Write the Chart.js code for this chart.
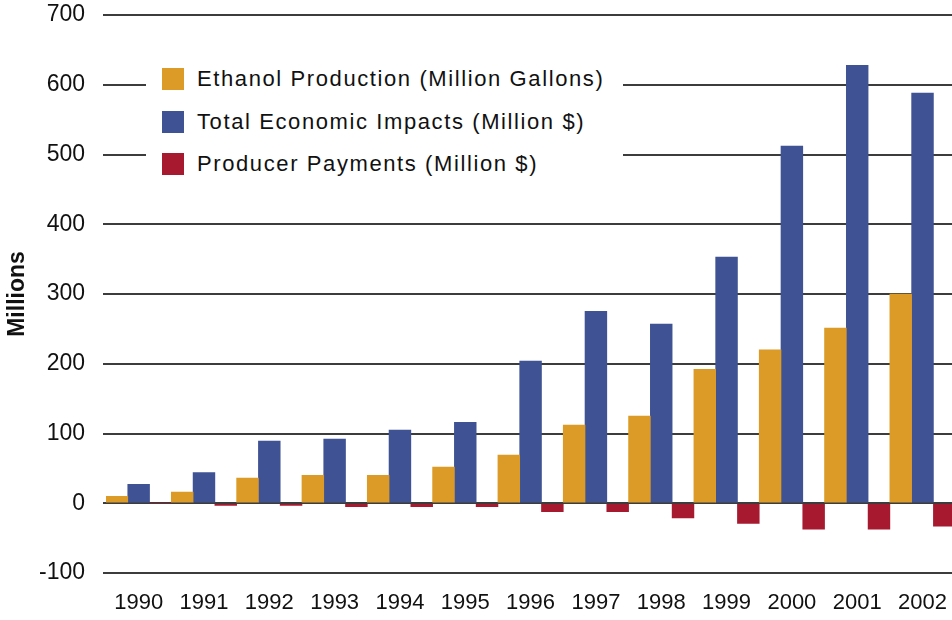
<!DOCTYPE html>
<html>
<head>
<meta charset="utf-8">
<script src="https://cdn.jsdelivr.net/npm/chart.js@4/dist/chart.umd.min.js"></script>
<style>
  html, body { margin: 0; padding: 0; background: #fff; overflow: hidden; }
  #wrap { position: relative; width: 952px; height: 620px; overflow: hidden; }
  #ethanol { position: absolute; left: 0; top: 0; }
  #legend { position: absolute; left: 146px; top: 48px; width: 461px; padding: 20px 0 0 16px; background: #fff; font-family: "Liberation Sans", Arial, sans-serif; font-size: 22px; letter-spacing: 1.6px; color: #111; }
  #legend .row { display: flex; align-items: center; height: 22px; margin-bottom: 20.5px; white-space: nowrap; }
  #legend .box { width: 22px; height: 22px; margin-right: 13px; }
</style>
</head>
<body>
<div id="wrap">
  <canvas id="ethanol" width="964" height="620"></canvas>
  <div id="legend"></div>
</div>
<script>
  // years on the x axis
  var years = ['1990', '1991', '1992', '1993', '1994', '1995', '1996', '1997', '1998', '1999', '2000', '2001', '2002'];

  // series values
  var ethanolProduction = [10, 16, 36, 40, 40, 52, 69, 112, 125, 192, 220, 251, 300];
  var economicImpacts = [27, 44, 89, 92, 105, 116, 204, 275, 257, 353, 512, 628, 588];
  var producerPayments = [0, -3, -3, -5, -5, -5, -12, -12, -21, -29, -37, -37, -33];

  var seriesNames = ['Ethanol Production (Million Gallons)', 'Total Economic Impacts (Million $)', 'Producer Payments (Million $)'];
  var seriesColors = ['#DC9A26', '#3E5294', '#A6192E'];

  // y axis ticks
  var yMin = -100, yMax = 700, yStep = 100;

  var ink = '#111';
  var gridColor = '#3c3c3c';
  var font = 'Liberation Sans, Arial, sans-serif';

  var seriesData = [ethanolProduction, economicImpacts, producerPayments];
  var datasets = seriesData.map(function (d, i) {
    return {
      label: seriesNames[i],
      data: d,
      backgroundColor: seriesColors[i],
      borderWidth: 0,
      categoryPercentage: 1,
      barPercentage: 1
    };
  });

  // legend sits inside the plot on a white panel, built from the same names/colours
  var legendEl = document.getElementById('legend');
  seriesNames.forEach(function (name, i) {
    var row = document.createElement('div');
    row.className = 'row';
    row.innerHTML = '<div class="box" style="background:' + seriesColors[i] + '"></div><span>' + name + '</span>';
    legendEl.appendChild(row);
  });

  var ctx = document.getElementById('ethanol').getContext('2d');
  window.ethanolChart = new Chart(ctx, {
    type: 'bar',
    data: { labels: years, datasets: datasets },
    options: {
      responsive: false,
      animation: false,
      layout: { padding: { top: 15, right: 0, bottom: 0, left: 0 } },
      plugins: { legend: { display: false }, tooltip: { enabled: false } },
      scales: {
        x: {
          grid: { display: false, drawTicks: false },
          border: { display: false },
          ticks: { color: ink, font: { family: font, size: 22 }, padding: 17, maxRotation: 0, autoSkip: false },
          afterFit: function (scale) { scale.height = 47; }
        },
        y: {
          min: yMin,
          max: yMax,
          grid: { color: gridColor, lineWidth: 2, drawTicks: true, tickLength: 3 },
          border: { display: false },
          ticks: { stepSize: yStep, color: ink, font: { family: font, size: 23 }, padding: 18 },
          title: { display: true, text: 'Millions', color: ink, font: { family: font, size: 23, weight: 'bold' }, padding: { top: 4, bottom: 0 } },
          afterFit: function (scale) {
            scale.width = 106;
            // keep the 700 line near the top edge
            scale.paddingTop = 0;
            scale.paddingBottom = 0;
          }
        }
      }
    }
  });
</script>
</body>
</html>
